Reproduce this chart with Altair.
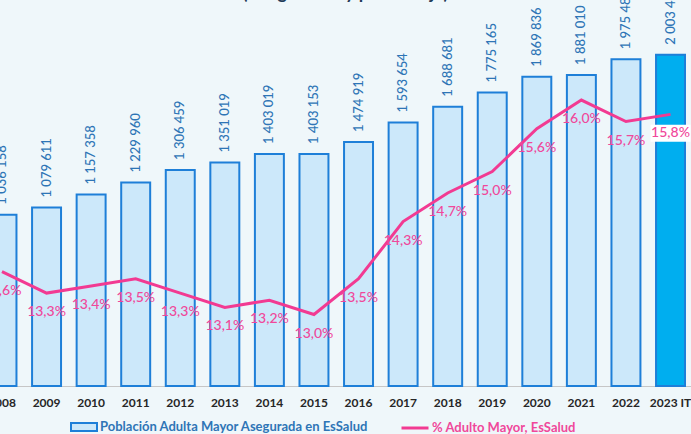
import altair as alt
import pandas as pd

years = ["2008", "2009", "2010", "2011", "2012", "2013", "2014", "2015",
         "2016", "2017", "2018", "2019", "2020", "2021", "2022", "2023 IT"]
poblacion = [1036158, 1079611, 1157358, 1229960, 1306459, 1351019, 1403019, 1403153,
             1474919, 1593654, 1688681, 1775165, 1869836, 1881010, 1975480, 2003460]
porcentaje = [13.6, 13.3, 13.4, 13.5, 13.3, 13.1, 13.2, 13.0,
              13.5, 14.3, 14.7, 15.0, 15.6, 16.0, 15.7, 15.8]
serie_bar = "Población Adulta Mayor Asegurada en EsSalud"
serie_line = "% Adulto Mayor, EsSalud"
titulo = "(Asegurados y porcentaje)"

df = pd.DataFrame({"anio": years, "pob": poblacion, "pct": porcentaje})
df["pob_lbl"] = [f"{v:,}".replace(",", " ") for v in poblacion]
df["pct_lbl"] = [f"{v:.1f}%".replace(".", ",") for v in porcentaje]
df["tipo"] = [serie_bar] * (len(years) - 1) + ["actual"]
df["serie"] = serie_line

FONT = "Lato"
BLUE_TXT = "#2E75B6"
PINK = "#F23A92"
PINK_TXT = "#F0489B"
BAR_STROKE = "#1E7FD8"

x = alt.X(
    "anio:N", sort=years,
    scale=alt.Scale(range=[-20.3, 692.8], paddingInner=0.35, paddingOuter=0.175),
    axis=alt.Axis(title=None, labelAngle=0, ticks=False, domainColor="#C6C6C6",
                  domainWidth=1, labelFont=FONT, labelFontWeight="bold",
                  labelFontSize=12, labelColor="#262626", labelPadding=11),
)
yb = alt.Y("pob:Q", scale=alt.Scale(domain=[0, 2334000], nice=False, zero=True), axis=None)
yp = alt.Y("pct:Q", scale=alt.Scale(domain=[12.0, 17.4], nice=False, zero=False), axis=None)

base = alt.Chart(df)

bars = base.mark_bar(stroke=BAR_STROKE, strokeWidth=2).encode(
    x=x, y=yb,
    fill=alt.Fill("tipo:N",
                  scale=alt.Scale(domain=[serie_bar, "actual"], range=["#CCE8FA", "#00AEEF"]),
                  legend=alt.Legend(values=[serie_bar], orient="none", legendX=70, legendY=413,
                                    title=None, symbolType="M-1,-0.3H1V0.3H-1Z", symbolSize=676,
                                    symbolStrokeColor=BAR_STROKE, symbolStrokeWidth=2,
                                    labelFont=FONT, labelFontWeight="bold", labelFontSize=13,
                                    labelColor=BLUE_TXT, labelLimit=400, labelOffset=2)),
)
bar_lbl = base.mark_text(angle=270, align="left", baseline="middle", yOffset=-10,
                         font=FONT, fontSize=13, fontWeight=500, color=BLUE_TXT).encode(
    x=x, y=yb, text="pob_lbl:N")

line = base.mark_line(strokeWidth=3).encode(
    x=x, y=yp,
    stroke=alt.Stroke("serie:N", scale=alt.Scale(domain=[serie_line], range=[PINK]),
                      legend=alt.Legend(orient="none", legendX=400, legendY=413, title=None,
                                        symbolType="stroke", symbolSize=729,
                                        symbolStrokeWidth=3, labelFont=FONT,
                                        labelFontWeight="bold", labelFontSize=13,
                                        labelColor=PINK_TXT, labelLimit=400, labelOffset=2)),
)
box = base.mark_point(shape="M-1,-0.425H1V0.425H-1Z", size=1600, filled=True, color="white",
                      opacity=1, strokeOpacity=0, yOffset=19).encode(
    x=x, y=yp).transform_filter(alt.datum.anio == "2023 IT")
pct_lbl = base.mark_text(yOffset=19, baseline="middle", align="center", font=FONT,
                         fontSize=14, fontWeight=500, color=PINK_TXT).encode(
    x=x, y=yp, text="pct_lbl:N")

layer_a = alt.layer(bars, bar_lbl)
layer_b = alt.layer(line, box, pct_lbl)

chart = alt.layer(layer_a, layer_b).resolve_scale(y="independent", fill="independent",
                                                   stroke="independent").properties(
    width=691, height=386,
    title=alt.Title(titulo, font=FONT, fontSize=18, fontWeight="bold", color="#1F3B57",
                    baseline="alphabetic", offset=-32, anchor="middle", frame="group"),
    autosize=alt.AutoSizeParams(type="none"),
    padding={"left": 0, "top": 0, "right": 0, "bottom": 48},
    background="#EFF7FA",
).configure_view(strokeWidth=0)

chart.save("out.html", embed_options={"renderer": "svg", "actions": False})
